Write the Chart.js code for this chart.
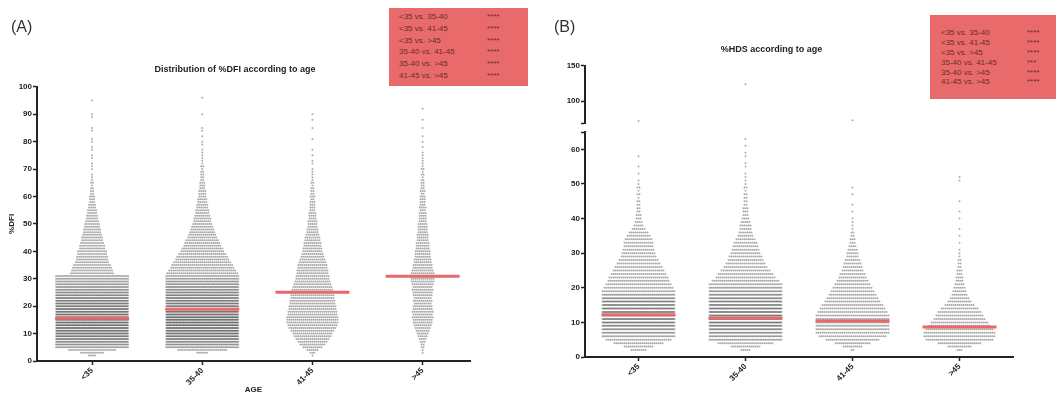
<!DOCTYPE html>
<html>
<head>
<meta charset="utf-8">
<script src="https://cdn.jsdelivr.net/npm/chart.js@4.4.1/dist/chart.umd.min.js"></script>
<style>
body { margin: 0; background: #fff; font-family: "Liberation Sans", Arial, sans-serif; }
#wrap { position: relative; width: 1060px; height: 396px; overflow: hidden; }
canvas { position: absolute; }
.panel { position: absolute; font-size: 16px; color: #333; }
.stats { position: absolute; background: #e96a6b; color: #6a2a2a; font-size: 8px; }
.stats div { position: relative; white-space: nowrap; }
.stats span { position: absolute; }
</style>
</head>
<body>
<div id="wrap">
  <canvas id="chartA" width="530" height="396" style="left:0;top:0"></canvas>
  <canvas id="chartB1" width="530" height="130" style="left:530px;top:0"></canvas>
  <canvas id="chartB2" width="530" height="271" style="left:530px;top:125px"></canvas>
  <div class="panel" style="left:11px;top:18px">(A)</div>
  <div class="panel" style="left:554px;top:18px">(B)</div>
  <div id="boxA" class="stats" style="left:389px;top:8px;width:139px;height:78px;padding-top:3px;box-sizing:border-box;line-height:11.8px"></div>
  <div id="boxB" class="stats" style="left:930px;top:15px;width:126px;height:84px;padding-top:13px;box-sizing:border-box;line-height:9.9px"></div>
</div>
<script>
// age groups
var groups = ['<35', '35-40', '41-45', '>45'];

// %DFI: number of dots per 1% row (index = %DFI value)
var dfiLt35 = [0,0,4,12,24, 50,60,70,80,85, 90,92,95,95,95, 95,95,92,90,88, 85,80,78,75,70, 66,62,58,54,50,
  46,42,22,21,20, 19,17,16,16,15, 15,13,13,12,11, 11,10,9,9,8, 8,7,6,6,5, 5,4,4,3,3,
  3,2,2,2,1, 2,1,1,1,0, 1,1,1,0,1, 1,0,1,1,0, 1,1,0,0,1, 1,0,0,0,1, 1,0,0,0,0, 1];
var dfi35to40 = [0,0,0,6,25, 50,60,70,80,85, 90,92,95,95,95, 95,95,92,90,88, 85,82,80,78,75, 70,66,62,58,54,
  48,42,36,34,32, 31,29,27,26,24, 22,21,19,18,17, 15,14,13,12,11, 10,9,9,8,7, 7,6,6,5,5,
  4,4,4,3,3, 3,2,2,2,2, 1,2,1,1,1, 1,1,1,0,1, 1,0,1,0,1, 1,0,0,0,0, 1,0,0,0,0, 0,1];
var dfi41to45 = [0,0,1,3,6, 10,13,15,17,19, 20,22,24,25,26, 26,26,25,25,24, 24,23,23,22,22, 22,21,20,19,18,
  17,17,16,16,15, 15,14,13,12,11, 10,10,9,9,8, 8,7,6,6,5, 5,5,4,4,4, 3,3,3,3,2,
  3,2,2,2,1, 2,1,1,1,1, 1,0,1,1,0, 1,0,1,0,0, 0,1,0,0,0, 1,0,0,1,0, 1];
var dfiGt45 = [0,0,0,1,1, 2,2,3,4,5, 6,7,8,9,10, 10,11,10,11,10, 10,9,10,9,10, 10,11,10,11,12,
  12,13,12,11,10, 10,9,9,8,8, 8,7,7,7,6, 6,6,5,5,5, 5,4,4,4,4, 3,4,3,3,3,
  3,2,3,2,2, 2,2,1,2,1, 2,1,1,1,1, 1,1,0,1,0, 1,0,1,0,0, 1,0,0,1,0, 0,0,1];
var dfiMedian = [15.6, 18.9, 25.1, 30.9];

// %HDS: number of dots per 1% row (index = %HDS value)
var hdsLt35 = [0,0,8,15,25, 33,45,55,62,70, 75,80,80,80,78, 75,70,62,50,40, 35,33,31,30,28, 26,24,22,20,18,
  17,16,15,15,14, 12,10,7,5,4, 3,3,2,2,2, 2,1,2,1,2, 1,1,0,1,0, 1,0,0,1];
var hds35to40 = [0,0,5,15,28, 45,55,62,70,75, 80,82,82,80,78, 75,72,68,62,55, 48,40,34,30,28, 25,22,20,18,17,
  15,14,13,12,10, 8,7,6,6,5, 4,3,3,3,2, 2,2,2,1,2, 1,1,1,1,0, 1,1,0,1,1, 0,1,0,1];
var hds41to45 = [0,0,2,10,18, 27,34,37,40,42, 42,40,38,35,33, 31,28,26,24,22, 20,18,16,14,13, 11,10,9,8,6,
  6,5,4,3,3, 2,2,1,1,1, 1,0,1,0,1, 0,0,1,0,1];
var hdsGt45 = [0,0,3,12,22, 34,36,36,34,31, 29,26,24,22,19, 15,12,10,8,7, 6,5,4,4,3, 3,2,2,2,1,
  1,1,0,1,0, 1,0,1,0,0, 1,0,1,0,0, 1,0,0,0,0, 0,1,1];
var hdsOutlierGroup = [1, 2, 3];
var hdsOutlierValue = [72, 124, 73];
var hdsMedian = [12.2, 11.3, 10.4, 8.7];

// multiple comparisons
var comparisons = ['<35 vs. 35-40', '<35 vs. 41-45', '<35 vs. >45', '35-40 vs. 41-45', '35-40 vs. >45', '41-45 vs. >45'];
var dfiStars = ['****', '****', '****', '****', '****', '****'];
var hdsStars = ['****', '****', '****', '***', '****', '****'];

function fillBox(id, stars, starLeft, textLeft) {
  var box = document.getElementById(id);
  comparisons.forEach(function (c, i) {
    var row = document.createElement('div');
    row.style.height = box.style.lineHeight;
    row.innerHTML = '<span style="left:' + textLeft + 'px"></span><span style="left:' + starLeft + 'px"></span>';
    row.children[0].textContent = c;
    row.children[1].textContent = stars[i];
    box.appendChild(row);
  });
}
fillBox('boxA', dfiStars, 98, 10);
fillBox('boxB', hdsStars, 97, 11);

// beeswarm rows: dots 2px apart, squeezed when a row would pass 36px each side
function swarm(counts, center, pxPerUnit) {
  var pts = [];
  var cap = 36 / pxPerUnit, step = 2 / pxPerUnit;
  counts.forEach(function (n, v) {
    if (!n) return;
    var s = n > 1 ? Math.min(step, 2 * cap / (n - 1)) : 0;
    for (var i = 0; i < n; i++) {
      pts.push({ x: center + (i - (n - 1) / 2) * s, y: v });
    }
  });
  return pts;
}

function dots(data) {
  return {
    data: data,
    pointRadius: 1,
    pointBackgroundColor: 'rgba(55,55,55,0.42)',
    pointBorderWidth: 0,
    pointHoverRadius: 1
  };
}

function medianLine(m, center, half) {
  return {
    data: [{ x: center - half, y: m }, { x: center + half, y: m }],
    showLine: true,
    borderColor: '#e8686c',
    borderWidth: 3,
    pointRadius: 0,
    order: -1
  };
}

var ink = '#222';
var tickFont = { family: 'Liberation Sans', size: 8, weight: 'bold' };
var titleFont = { family: 'Liberation Sans', size: 9, weight: 'bold' };

function axisBase() {
  return {
    grid: { drawOnChartArea: false, tickLength: 4, tickColor: ink, tickWidth: 1.5 },
    border: { color: ink, width: 2 },
    ticks: { font: tickFont, color: ink, padding: 1, autoSkip: false }
  };
}

function xAxis(max, height, title) {
  var a = axisBase();
  a.type = 'linear';
  a.min = 0.5;
  a.max = max;
  a.afterBuildTicks = function (s) { s.ticks = [1, 2, 3, 4].map(function (v) { return { value: v }; }); };
  a.afterFit = function (s) { s.height = height; };
  a.ticks.minRotation = 45;
  a.ticks.maxRotation = 45;
  a.ticks.callback = function (v) { return groups[v - 1]; };
  if (title) a.title = { display: true, text: title, font: tickFont, color: ink, padding: { top: 0, bottom: 1 } };
  return a;
}

function yAxis(min, max, tickVals, hidden, width) {
  var a = axisBase();
  a.min = min;
  a.max = max;
  a.afterBuildTicks = function (s) { s.ticks = tickVals.map(function (v) { return { value: v }; }); };
  a.afterFit = function (s) { s.width = width; };
  a.ticks.callback = function (v) { return hidden.indexOf(v) >= 0 ? '' : v; };
  return a;
}

var basePlugins = function (title, pad) {
  return {
    legend: { display: false },
    tooltip: { enabled: false },
    title: title ? { display: true, text: title, font: titleFont, color: ink, padding: pad } : { display: false }
  };
};

// ---- panel A: %DFI
var pxA = 433 / 3.93;
var dfiSets = [dfiLt35, dfi35to40, dfi41to45, dfiGt45];
var dsA = [];
dfiSets.forEach(function (c, g) { dsA.push(dots(swarm(c, g + 1, pxA))); });
dfiMedian.forEach(function (m, g) { dsA.push(medianLine(m, g + 1, 37 / pxA)); });

var yA = yAxis(0, 100, [0, 10, 20, 30, 40, 50, 60, 70, 80, 90, 100], [], 37);
yA.title = { display: true, text: '%DFI', font: tickFont, color: ink, padding: { top: 7, bottom: 0 } };

new Chart(document.getElementById('chartA'), {
  type: 'scatter',
  data: { datasets: dsA },
  options: {
    responsive: false,
    animation: false,
    events: [],
    layout: { padding: { left: 0, right: 60, top: 58, bottom: 0 } },
    plugins: basePlugins('Distribution of %DFI according to age', { top: 6, bottom: 12 }),
    scales: { x: xAxis(4.43, 35, 'AGE'), y: yA }
  }
});

// ---- panel B: %HDS, broken y axis
var pxB = 428 / 4;
var hdsSets = [hdsLt35, hds35to40, hds41to45, hdsGt45];
var dsB = [];
hdsSets.forEach(function (c, g) { dsB.push(dots(swarm(c, g + 1, pxB))); });
hdsMedian.forEach(function (m, g) { dsB.push(medianLine(m, g + 1, 37 / pxB)); });

var outliers = hdsOutlierValue.map(function (v, i) { return { x: hdsOutlierGroup[i], y: v }; });

var xTop = xAxis(4.5, 0, null);
xTop.display = false;

new Chart(document.getElementById('chartB1'), {
  type: 'scatter',
  data: { datasets: [dots(outliers)] },
  options: {
    responsive: false,
    animation: false,
    events: [],
    layout: { padding: { left: 0, right: 47, top: 38, bottom: 7 } },
    plugins: basePlugins('%HDS according to age', { top: 6, bottom: 11 }),
    scales: { x: xTop, y: yAxis(69, 150, [69, 100, 150], [69], 55) }
  }
});

new Chart(document.getElementById('chartB2'), {
  type: 'scatter',
  data: { datasets: dsB },
  options: {
    responsive: false,
    animation: false,
    events: [],
    layout: { padding: { left: 0, right: 47, top: 7, bottom: 0 } },
    plugins: basePlugins(null),
    scales: { x: xAxis(4.5, 39, null), y: yAxis(0, 65, [0, 10, 20, 30, 40, 50, 60, 65], [65], 55) }
  }
});
</script>
</body>
</html>
